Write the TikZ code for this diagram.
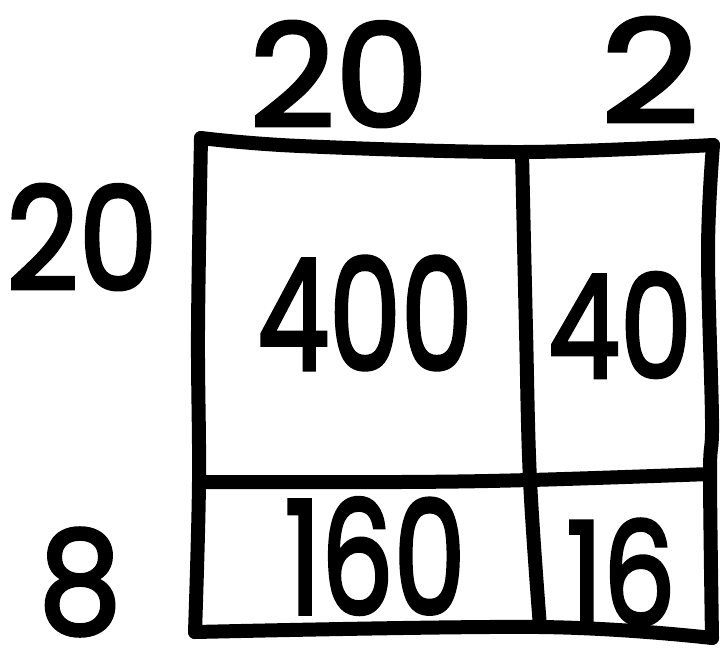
\documentclass[tikz,border=0pt]{standalone}
\usepackage{fontspec}
\newfontfamily\hand{Poppins}[FakeBold=2.6]
\begin{document}
\begin{tikzpicture}[x=1pt,y=-1pt,
  gridline/.style={line width=14pt,line cap=round,line join=round},
  num/.style={font=\fontsize{143}{143}\selectfont\hand,inner sep=0pt,xscale=0.8}]
\useasboundingbox (0,0) rectangle (722,654);
% corners
\coordinate (TL) at (201,138);
\coordinate (TR) at (713,145);
\coordinate (BL) at (195,632);
\coordinate (BR) at (712,638);
\coordinate (VT) at (522,152);
\coordinate (VB) at (540,627);
\coordinate (HL) at (199,482);
\coordinate (HR) at (710,474);
% outer frame
\draw[gridline] plot[smooth,tension=0.6] coordinates {(TL) (300,146) (VT) (TR)};
\draw[gridline] plot[smooth,tension=0.6] coordinates {(TR) (708,250) (712,420) (HR) (BR)};
\draw[gridline] plot[smooth,tension=0.6] coordinates {(BL) (VB) (BR)};
\draw[gridline] plot[smooth,tension=0.6] coordinates {(TL) (198,330) (HL) (BL)};
% dividers
\draw[gridline] plot[smooth,tension=0.6] coordinates {(VT) (526,330) (530,480) (VB)};
\draw[gridline] plot[smooth,tension=0.6] coordinates {(HL) (400,482) (530,480) (HR)};
% labels
\node[num,xscale=1.3] (t20) at (339,74) {20};
\node[num,xscale=1.5] (t2) at (650,70) {2};
\node[num,xscale=1.1] (l20) at (82,237) {20};
\node[num,xscale=1.15] (l8) at (80,582) {8};
\node[num,yscale=1.08] (c400) at (365,313) {400};
\node[num] (c40) at (620,325) {40};
\node[num,yscale=1.1] (c160) at (375,556) {160};
\node[num] (c16) at (621,572) {16};
\end{tikzpicture}
\end{document}
